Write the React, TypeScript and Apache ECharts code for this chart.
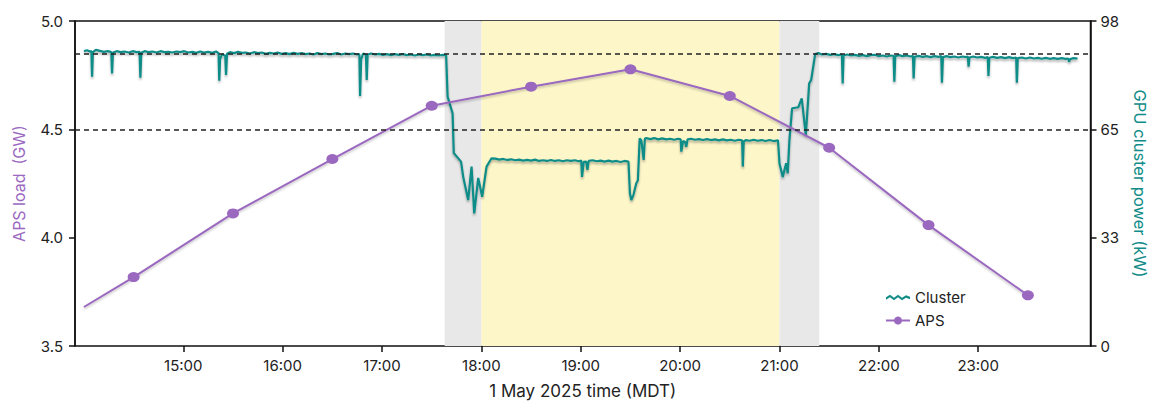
import React, { useEffect, useRef } from "react";
import * as echarts from "echarts";

// ---- data ----
const xTickHours = [15, 16, 17, 18, 19, 20, 21, 22, 23];
const leftTicks = [3.5, 4.0, 4.5, 5.0];
const rightTickLabels = ["0", "33", "65", "98"];

// APS load (GW) at hour marks
const apsHours = [14.0, 14.5, 15.5, 16.5, 17.5, 18.5, 19.5, 20.5, 21.5, 22.5, 23.5];
const apsLoad = [3.68, 3.818, 4.112, 4.363, 4.609, 4.697, 4.777, 4.654, 4.415, 4.058, 3.734];

// GPU cluster power (kW): [hour, kW]
const clusterPower: [number, number][] = [
  [14.0, 88.9], [14.03, 89.2], [14.06, 88.8], [14.075, 88.9], [14.082, 81.2], [14.09, 88.6],
  [14.12, 89.3], [14.16, 89.0], [14.2, 88.7], [14.24, 88.9], [14.275, 88.6], [14.283, 82.2],
  [14.292, 88.5], [14.33, 88.9], [14.37, 88.6], [14.41, 88.8], [14.45, 88.5], [14.49, 88.9],
  [14.53, 88.6], [14.56, 88.7], [14.568, 80.9], [14.577, 88.4], [14.61, 88.9], [14.65, 88.6],
  [14.69, 88.8], [14.73, 88.5], [14.77, 88.9], [14.81, 88.6], [14.85, 88.7], [14.89, 88.5],
  [14.93, 88.8], [14.97, 88.6], [15.01, 88.9], [15.05, 88.5], [15.09, 88.7], [15.13, 88.4],
  [15.17, 88.8], [15.21, 88.5], [15.25, 88.7], [15.29, 88.4], [15.33, 88.8], [15.355, 88.3],
  [15.362, 80.0], [15.37, 86.5], [15.39, 88.0], [15.422, 87.5], [15.43, 81.7], [15.44, 88.1],
  [15.47, 88.6], [15.51, 88.3], [15.55, 88.7], [15.59, 88.4], [15.63, 88.5], [15.67, 88.2],
  [15.71, 88.6], [15.75, 88.3], [15.79, 88.5], [15.83, 88.1], [15.87, 88.4], [15.91, 88.2],
  [15.95, 88.5], [15.99, 88.1], [16.03, 88.3], [16.07, 88.0], [16.11, 88.4], [16.15, 88.1],
  [16.19, 88.3], [16.23, 88.0], [16.27, 88.2], [16.31, 87.9], [16.35, 88.3], [16.39, 88.0],
  [16.43, 88.2], [16.47, 87.9], [16.51, 88.1], [16.55, 88.3], [16.59, 87.9], [16.63, 88.2],
  [16.67, 88.0], [16.71, 88.2], [16.75, 87.9], [16.772, 88.0], [16.779, 75.4], [16.79, 86.5],
  [16.81, 88.2], [16.838, 87.8], [16.846, 80.2], [16.855, 87.9], [16.89, 88.2], [16.93, 87.9],
  [16.97, 88.1], [17.01, 87.8], [17.05, 88.0], [17.09, 87.7], [17.13, 88.0], [17.17, 87.8],
  [17.21, 88.0], [17.25, 87.7], [17.29, 87.9], [17.33, 87.6], [17.37, 87.9], [17.41, 87.7],
  [17.45, 87.9], [17.49, 87.6], [17.53, 87.8], [17.57, 87.6], [17.61, 87.8], [17.645, 87.7],
  [17.66, 75.2], [17.71, 70.2], [17.722, 58.2], [17.795, 55.6], [17.817, 51.0], [17.867, 44.0],
  [17.901, 54.1], [17.928, 40.0], [17.968, 50.7], [18.008, 45.0], [18.052, 54.1], [18.102, 56.6],
  [18.14, 56.5], [18.18, 56.2], [18.22, 56.4], [18.26, 56.1], [18.3, 56.3], [18.34, 56.0],
  [18.38, 56.2], [18.42, 55.9], [18.46, 56.1], [18.5, 55.9], [18.54, 56.2], [18.58, 55.8],
  [18.62, 56.0], [18.66, 55.8], [18.7, 56.1], [18.74, 55.8], [18.78, 56.0], [18.82, 55.7],
  [18.86, 56.0], [18.9, 55.8], [18.94, 56.0], [18.98, 55.7], [19.005, 55.9], [19.013, 51.0],
  [19.03, 55.5], [19.055, 55.6], [19.067, 53.1], [19.08, 55.8], [19.12, 56.0], [19.16, 55.7],
  [19.2, 55.9], [19.24, 55.6], [19.28, 55.9], [19.32, 55.6], [19.36, 55.8], [19.4, 55.5],
  [19.44, 55.8], [19.48, 55.6], [19.495, 46.0], [19.509, 44.0], [19.53, 45.5], [19.559, 49.1],
  [19.575, 50.0], [19.593, 62.6], [19.61, 62.0], [19.633, 56.1], [19.645, 62.5], [19.66, 62.7],
  [19.7, 62.4], [19.74, 62.7], [19.78, 62.3], [19.82, 62.6], [19.86, 62.3], [19.9, 62.5],
  [19.94, 62.2], [19.98, 62.5], [20.005, 62.3], [20.012, 58.6], [20.03, 61.8], [20.05, 61.5],
  [20.062, 60.1], [20.075, 62.3], [20.11, 62.5], [20.15, 62.2], [20.19, 62.4], [20.23, 62.1],
  [20.27, 62.4], [20.31, 62.1], [20.35, 62.3], [20.39, 62.0], [20.43, 62.3], [20.47, 62.0],
  [20.51, 62.2], [20.55, 61.9], [20.59, 62.2], [20.624, 62.0], [20.631, 54.1], [20.64, 61.6],
  [20.66, 62.1], [20.7, 61.9], [20.74, 62.2], [20.78, 61.9], [20.82, 62.1], [20.86, 61.8],
  [20.9, 62.1], [20.94, 61.8], [20.985, 62.0], [21.0, 55.0], [21.033, 51.0], [21.067, 55.1],
  [21.083, 52.1], [21.1, 62.1], [21.127, 71.7], [21.19, 72.0], [21.224, 74.7], [21.265, 63.6],
  [21.299, 79.2], [21.319, 80.2], [21.359, 88.0], [21.39, 88.3], [21.43, 87.9], [21.47, 88.1],
  [21.51, 87.8], [21.55, 88.0], [21.59, 87.7], [21.628, 87.9], [21.636, 79.2], [21.645, 87.6],
  [21.68, 87.9], [21.72, 87.6], [21.76, 87.8], [21.8, 87.5], [21.84, 87.7], [21.88, 87.4],
  [21.92, 87.7], [21.96, 87.8], [22.0, 87.4], [22.04, 87.6], [22.08, 87.3], [22.12, 87.6],
  [22.148, 87.5], [22.156, 79.7], [22.165, 87.4], [22.2, 87.7], [22.24, 87.4], [22.28, 87.6],
  [22.32, 87.3], [22.343, 87.5], [22.35, 80.7], [22.36, 87.2], [22.4, 87.5], [22.44, 87.2],
  [22.48, 87.4], [22.52, 87.1], [22.56, 87.4], [22.6, 87.2], [22.628, 87.4], [22.635, 79.4],
  [22.645, 87.1], [22.68, 87.4], [22.72, 87.1], [22.76, 87.3], [22.8, 87.0], [22.84, 87.3],
  [22.88, 87.1], [22.896, 87.3], [22.903, 84.2], [22.912, 87.0], [22.95, 87.3], [22.99, 87.0],
  [23.03, 87.2], [23.07, 86.9], [23.096, 87.1], [23.103, 81.4], [23.112, 86.9], [23.15, 87.2],
  [23.19, 86.9], [23.23, 87.1], [23.27, 86.8], [23.31, 87.1], [23.35, 86.8], [23.382, 87.0],
  [23.389, 79.4], [23.398, 86.8], [23.44, 87.0], [23.48, 86.7], [23.52, 87.0], [23.56, 86.7],
  [23.6, 86.9], [23.64, 86.6], [23.68, 86.9], [23.72, 86.6], [23.76, 86.8], [23.8, 86.6],
  [23.84, 86.8], [23.88, 86.6], [23.905, 86.7], [23.915, 85.7], [23.925, 86.5], [23.96, 86.8],
  [24.0, 86.7],
];

// reference thresholds (kW)
const clusterThresholds = [88.0, 65.33];

// shaded periods [start hour, end hour, kind]
const shadedPeriods: [number, number, string][] = [
  [17.63, 18.0, "ramp"],
  [18.0, 21.0, "peak"],
  [21.0, 21.4, "ramp"],
];

const xMin = 13.91;
const xMax = 24.13;

const TEAL = "#118c88";
const PURPLE = "#9a68bf";
const FONT = "Inter, 'Liberation Sans', sans-serif";

export default function App() {
  const ref = useRef<HTMLDivElement>(null);

  useEffect(() => {
    if (!ref.current) return;
    const chart = echarts.init(ref.current, undefined, { renderer: "svg" });

    const wave =
      "path://M0,4 L4,1.5 L8,4.5 L12,1.5 L16,4.5 L20,2 L24,3.5 L24,6 L20,4.5 L16,7 L12,4 L8,7 L4,4 L0,6.5 Z";

    chart.setOption({
      animation: false,
      textStyle: { fontFamily: FONT },
      grid: {
        left: 75,
        right: 61.5,
        top: 21,
        bottom: 56,
        outerBoundsMode: "none",
        containLabel: false,
        show: true,
        borderColor: "#111",
        borderWidth: 1.5,
        backgroundColor: "transparent",
      },
      legend: {
        left: 880,
        top: 285,
        orient: "vertical",
        itemWidth: 24,
        itemHeight: 10,
        itemGap: 8,
        textStyle: { fontSize: 15, color: "#222", fontFamily: FONT },
        data: [
          {
            name: "Cluster",
            icon: wave,
            itemStyle: { color: TEAL },
          },
          { name: "APS" },
        ],
      },
      xAxis: {
        type: "value",
        min: xMin,
        max: xMax,
        name: "1 May 2025 time (MDT)",
        nameLocation: "middle",
        nameGap: 36,
        nameTextStyle: { fontSize: 17, color: "#222", fontFamily: FONT },
        axisLine: {
          show: true,
          lineStyle: {
            width: 2.5,
            color: new echarts.graphic.LinearGradient(0, 0, 1, 0, [
              { offset: 0, color: "#6a4c9c" },
              { offset: 1, color: "#1a8580" },
            ]),
            shadowColor: "rgba(0,0,0,0.3)",
            shadowBlur: 2,
            shadowOffsetY: 2,
          },
        },
        axisTick: {
          show: true,
          customValues: xTickHours,
          length: 6,
          lineStyle: { color: "#111", width: 1.5 },
        },
        axisLabel: {
          customValues: xTickHours,
          formatter: (v: number) => `${v}:00`,
          fontSize: 15,
          color: "#222",
          margin: 12,
          fontFamily: FONT,
        },
        splitLine: { show: false },
      },
      yAxis: [
        {
          type: "value",
          min: leftTicks[0],
          max: leftTicks[leftTicks.length - 1],
          interval: 0.5,
          position: "left",
          name: "APS load  (GW)",
          nameLocation: "middle",
          nameRotate: 90,
          nameGap: 48,
          nameTextStyle: { fontSize: 16, color: PURPLE, fontFamily: FONT },
          axisLine: { show: true, lineStyle: { color: "#111", width: 1.5 } },
          axisTick: { show: true, length: 6, lineStyle: { color: "#111", width: 1.5 } },
          axisLabel: {
            formatter: (v: number) => v.toFixed(1),
            fontSize: 15,
            color: "#222",
            margin: 12,
            fontFamily: FONT,
          },
          splitLine: { show: false },
        },
        {
          type: "value",
          min: 0,
          max: 98,
          interval: 98 / 3,
          position: "right",
          name: "GPU cluster power (kW)",
          nameLocation: "middle",
          nameRotate: -90,
          nameGap: 41,
          nameTextStyle: { fontSize: 16.5, color: TEAL, fontFamily: FONT },
          axisLine: { show: true, lineStyle: { color: "#111", width: 1.5 } },
          axisTick: { show: true, length: 6, lineStyle: { color: "#111", width: 1.5 } },
          axisLabel: {
            formatter: (v: number) => rightTickLabels[Math.round(v / (98 / 3))] ?? "",
            fontSize: 15,
            color: "#222",
            margin: 10,
            fontFamily: FONT,
          },
          splitLine: { show: false },
        },
      ],
      series: [
        {
          name: "Cluster",
          type: "line",
          yAxisIndex: 1,
          data: clusterPower,
          showSymbol: false,
          symbol: "none",
          z: 2,
          lineStyle: {
            color: TEAL,
            width: 2.2,
            shadowColor: "rgba(0,0,0,0.3)",
            shadowBlur: 2,
            shadowOffsetY: 2,
          },
          itemStyle: { color: TEAL },
          markArea: {
            silent: true,
            data: shadedPeriods.map(([a, b, k]) => [
              {
                xAxis: a,
                itemStyle: { color: k === "peak" ? "#fdf6c9" : "#e8e8e8" },
              },
              { xAxis: b },
            ]),
          },
          markLine: {
            silent: true,
            symbol: "none",
            label: { show: false },
            lineStyle: { color: "#222", type: [5, 4], width: 1.5 },
            data: clusterThresholds.map((v) => ({ yAxis: v })),
          },
        },
        {
          name: "APS",
          type: "line",
          yAxisIndex: 0,
          z: 3,
          symbol: "circle",
          symbolSize: [12, 10],
          data: apsHours.map((h, i) =>
            i === 0 ? { value: [h, apsLoad[i]], symbol: "none" } : [h, apsLoad[i]]
          ),
          lineStyle: {
            color: PURPLE,
            width: 2,
            shadowColor: "rgba(0,0,0,0.25)",
            shadowBlur: 2,
            shadowOffsetY: 1.5,
          },
          itemStyle: { color: PURPLE },
        },
      ],
    });

    return () => chart.dispose();
  }, []);

  return (
    <div
      ref={ref}
      style={{ position: "absolute", left: 0, top: 0, width: 1152, height: 402 }}
    />
  );
}
